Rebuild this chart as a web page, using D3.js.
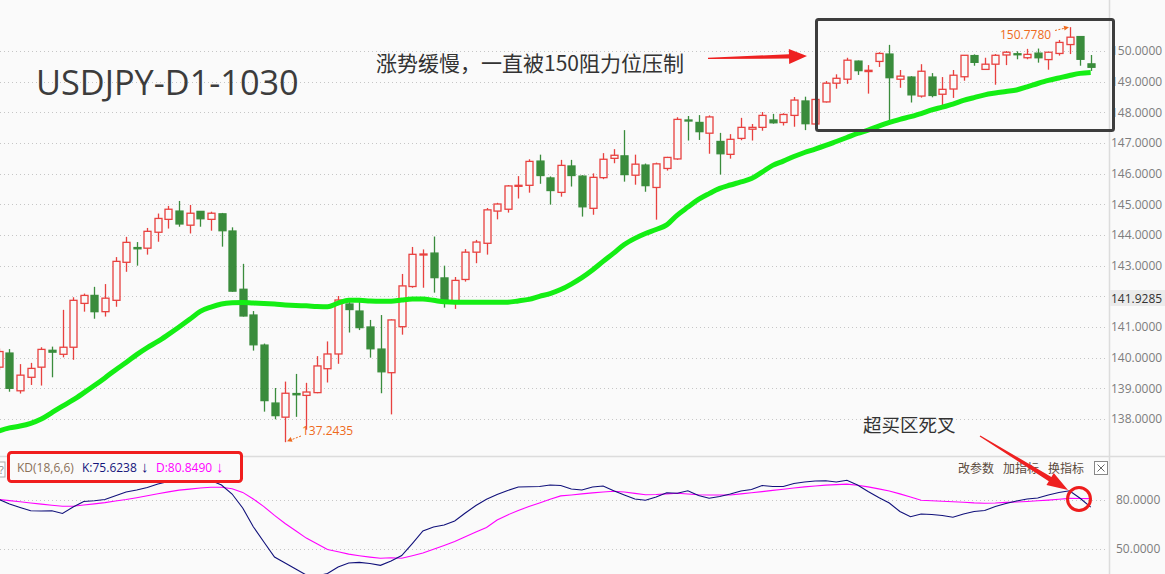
<!DOCTYPE html>
<html><head><meta charset="utf-8">
<script src="https://cdn.jsdelivr.net/npm/d3@7"></script>
<style>body{margin:0;background:#fafafa;} svg{display:block}</style>
</head><body><svg id="c" width="1165" height="574"></svg>
<script>
// ---- data (USDJPY daily candles) ----
const openV=[139.69,140.15,138.92,139.36,139.69,140.24,140.11,140.34,141.77,142.03,
141.50,141.87,143.11,143.59,143.57,144.09,144.51,144.78,144.32,144.77,
144.51,144.69,144.13,142.23,141.39,140.41,138.52,138.06,138.83,138.77,
138.86,139.64,140.12,141.75,141.52,141.00,140.28,139.51,141.01,142.32,
143.35,143.41,142.60,141.77,142.55,143.44,143.73,144.78,144.84,145.60,
145.62,146.41,145.86,145.39,146.25,145.92,144.87,145.87,146.50,146.58,
145.95,146.28,145.55,146.17,146.48,147.75,147.67,147.32,147.05,146.63,
147.15,147.45,147.51,147.75,147.67,147.90,148.37,147.62,148.34,148.95,
149.08,149.67,149.33,149.66,149.90,149.08,149.15,148.53,149.15,148.59,
148.76,149.16,149.85,149.40,149.57,149.87,149.91,149.78,149.93,149.72,
149.92,150.21,150.47,149.58];
const closeV=[140.20,139.00,139.43,139.65,140.27,140.18,140.34,141.87,142.03,141.50,
141.94,143.14,143.76,143.55,144.12,144.54,144.84,144.36,144.71,144.53,
144.71,144.14,142.17,141.36,140.42,138.60,138.11,138.84,138.79,138.88,
139.73,140.12,141.88,141.57,140.98,140.29,139.54,141.23,142.34,143.37,
143.38,142.61,141.90,142.52,143.44,143.77,144.82,145.01,145.60,145.62,
146.40,145.94,145.45,146.27,145.94,144.92,145.88,146.47,146.60,145.97,
146.31,145.61,146.32,146.53,147.77,147.73,147.37,147.85,146.65,147.12,
147.51,147.51,147.90,147.66,147.93,148.40,147.63,148.42,148.95,149.11,
149.70,149.36,149.37,149.92,149.13,149.18,148.57,149.34,148.55,148.75,
149.21,149.86,149.63,149.57,149.86,149.96,149.89,149.89,149.78,149.96,
150.28,150.45,149.73,149.47];
const highV=[140.30,140.28,139.79,139.83,140.34,140.36,141.56,141.97,142.09,142.31,
142.40,143.28,143.94,143.77,144.23,144.70,144.95,145.11,144.98,144.78,
144.76,144.72,144.25,143.06,141.52,140.46,139.01,139.22,139.47,139.18,
140.05,140.53,142.01,141.88,141.83,141.23,141.39,141.25,142.73,143.61,
143.53,143.95,143.00,142.63,143.54,143.84,144.88,145.05,145.63,145.92,
146.47,146.62,145.91,146.45,146.45,145.95,146.01,146.67,146.80,147.42,
146.62,146.33,146.36,146.55,147.84,147.88,147.91,147.90,147.33,147.29,
147.82,147.62,148.01,147.95,147.97,148.50,148.51,148.45,149.02,149.24,
149.78,149.69,149.54,149.96,150.20,149.38,149.18,149.57,149.28,149.15,
149.38,149.87,149.89,149.78,149.90,150.00,149.99,150.07,150.08,149.97,
150.36,150.778,150.49,149.87];
const lowV=[139.60,138.89,138.83,139.11,139.09,139.36,140.01,139.93,141.50,141.27,
141.34,141.66,142.80,143.00,143.36,143.78,144.21,144.27,144.05,144.27,
144.14,143.62,142.15,141.34,140.23,138.24,137.99,137.2435,138.07,137.65,
138.84,139.19,139.80,140.82,140.90,140.00,138.84,138.15,140.75,142.28,
142.28,142.12,141.63,141.59,142.48,143.08,143.36,144.51,144.73,145.19,
145.38,145.67,144.99,145.25,145.58,144.60,144.66,145.82,146.34,145.74,
145.64,145.41,144.50,146.10,146.45,147.08,147.10,146.65,145.97,146.49,
147.09,147.08,147.40,147.63,147.57,147.53,147.42,147.59,148.32,148.77,
148.93,149.22,148.61,149.48,147.59,148.80,148.32,148.48,148.49,148.23,
148.47,149.03,149.52,149.38,148.90,149.54,149.73,149.73,149.62,149.39,
149.85,149.90,149.52,149.35];
const maV=[137.61,137.71,137.77,137.86,138.00,138.21,138.42,138.62,138.85,139.09,
139.34,139.60,139.84,140.10,140.33,140.53,140.76,141.00,141.25,141.51,
141.65,141.75,141.79,141.80,141.78,141.77,141.75,141.72,141.70,141.69,
141.67,141.66,141.78,141.87,141.87,141.85,141.84,141.84,141.88,141.91,
141.91,141.87,141.82,141.81,141.81,141.81,141.81,141.81,141.81,141.85,
141.90,142.00,142.09,142.22,142.40,142.61,142.86,143.14,143.41,143.69,
143.89,144.05,144.18,144.33,144.65,144.91,145.16,145.35,145.52,145.63,
145.73,145.84,146.05,146.27,146.41,146.56,146.69,146.80,146.92,147.05,
147.18,147.31,147.42,147.55,147.67,147.77,147.86,147.96,148.08,148.17,
148.27,148.39,148.48,148.57,148.63,148.68,148.73,148.83,148.94,149.04,
149.12,149.20,149.27,149.30];
const kV=[80.43,77.55,75.41,73.39,73.26,73.45,71.73,75.71,79.08,79.51,
80.31,82.63,84.90,86.12,87.65,89.80,91.33,92.25,92.55,92.86,
91.94,89.19,83.67,75.10,63.65,54.28,45.10,41.42,37.75,34.07,
33.46,34.99,38.97,41.42,41.79,41.11,40.01,42.65,46.01,53.36,
61.02,63.47,64.69,67.14,72.04,76.63,80.43,83.37,85.82,87.96,
88.14,88.27,89.19,88.88,86.74,86.12,87.96,88.57,85.63,83.06,
80.61,79.82,81.84,84.47,84.16,85.69,82.76,81.04,82.14,83.67,
85.51,86.43,88.88,88.27,88.27,90.10,91.02,91.63,91.76,91.02,
92.06,89.19,85.21,81.53,78.16,72.96,69.77,71.43,71.12,70.51,
69.41,71.43,72.96,73.57,76.02,77.86,79.39,80.61,81.22,83.06,
84.59,85.69,81.04,75.62];
const dV=[80.43,79.63,78.96,78.16,77.49,76.75,76.14,76.20,76.94,77.61,
78.41,79.39,80.31,81.41,82.63,83.86,84.96,86.06,86.67,87.35,
87.78,87.78,86.92,84.65,80.61,75.96,70.57,65.61,61.14,56.67,
53.18,49.69,48.28,46.87,45.89,45.03,44.30,44.60,44.36,45.89,
47.54,49.87,52.20,54.53,57.53,60.34,63.16,67.75,70.88,73.63,
75.96,78.22,80.43,82.51,83.06,83.74,84.35,84.90,85.39,84.90,
84.04,83.18,83.37,83.74,84.10,83.67,83.18,83.06,83.06,83.06,
83.74,84.41,85.14,85.88,86.61,87.35,88.02,88.57,89.12,89.43,
89.74,89.06,88.02,86.80,85.51,83.74,81.78,79.82,79.57,79.27,
78.90,78.59,78.22,78.04,78.16,78.53,78.78,79.08,79.51,79.94,
80.49,80.98,80.92,80.85];
const priceTicks=[138,139,140,141,142,143,144,145,146,147,148,149,150];
const kdTicks=[50,80];
const lastTag=141.9285;
const highMark=150.7780, lowMark=137.2435;
const kLast=75.6238, dLast=80.8490;

// ---- drawing ----
const W=1165,H=574,BG="#fafafa",UP="#e8413f",DN="#3a8c3c";
const svg=d3.select("#c");
svg.append("rect").attr("width",W).attr("height",H).attr("fill",BG);
const n=openV.length;
const x=d3.scaleLinear().domain([0,n-1]).range([-1.1,1090.7]);
const y=d3.scaleLinear().domain([138,150]).range([419,51]);
const yk=d3.scaleLinear().domain([50,80]).range([549,500]);
const plotR=1108;
const numFont="'Open Sans','Liberation Sans',Arial,sans-serif";
const cjkFont="'Noto Sans CJK SC','Noto Sans',sans-serif";

const defs=svg.append("defs");
defs.append("clipPath").attr("id","cm").append("rect").attr("x",0).attr("y",0).attr("width",plotR).attr("height",455);
defs.append("clipPath").attr("id","ck").append("rect").attr("x",0).attr("y",457).attr("width",plotR).attr("height",H-457);

// grid
const g=svg.append("g");
g.selectAll("line.gm").data(priceTicks).join("line")
 .attr("x1",0).attr("x2",plotR).attr("y1",d=>Math.round(y(d))+0.5).attr("y2",d=>Math.round(y(d))+0.5)
 .attr("stroke","#c6c6c6").attr("stroke-dasharray","1,3");
g.selectAll("line.gk").data(kdTicks).join("line")
 .attr("x1",0).attr("x2",plotR).attr("y1",d=>Math.round(yk(d))+0.5).attr("y2",d=>Math.round(yk(d))+0.5)
 .attr("stroke","#c6c6c6").attr("stroke-dasharray","1,3");

// frame lines
svg.append("line").attr("x1",1109.5).attr("x2",1109.5).attr("y1",0).attr("y2",H).attr("stroke","#dcdcdc").attr("stroke-width",1.5);
svg.append("line").attr("x1",0).attr("x2",W).attr("y1",456.5).attr("y2",456.5).attr("stroke","#dcdcdc").attr("stroke-width",1.5);

// candles
const cg=svg.append("g").attr("clip-path","url(#cm)");
const idx=d3.range(n);
cg.selectAll("line.w").data(idx).join("line")
 .attr("x1",i=>Math.round(x(i))+0.5).attr("x2",i=>Math.round(x(i))+0.5)
 .attr("y1",i=>y(highV[i])).attr("y2",i=>y(lowV[i]))
 .attr("stroke",i=>closeV[i]>=openV[i]?UP:DN).attr("stroke-width",1.3);
cg.selectAll("rect.b").data(idx).join("rect")
 .attr("x",i=>Math.round(x(i))-3)
 .attr("width",7)
 .attr("y",i=>y(Math.max(openV[i],closeV[i])))
 .attr("height",i=>Math.max(1,Math.abs(y(openV[i])-y(closeV[i]))))
 .attr("fill",i=>closeV[i]>=openV[i]?BG:DN)
 .attr("stroke",i=>closeV[i]>=openV[i]?UP:DN)
 .attr("stroke-width",1.3);

// moving average
cg.append("path").datum(idx).attr("fill","none").attr("stroke","#14ee14").attr("stroke-width",5)
 .attr("d",d3.line().x(i=>x(i)).y(i=>y(maV[i])).curve(d3.curveMonotoneX));

// KD lines
const kg=svg.append("g").attr("clip-path","url(#ck)");
kg.append("path").datum(idx).attr("fill","none").attr("stroke","#ff00ff").attr("stroke-width",1.1)
 .attr("d",d3.line().x(i=>x(i)).y(i=>yk(dV[i])));
kg.append("path").datum(idx).attr("fill","none").attr("stroke","#10107a").attr("stroke-width",1.1)
 .attr("d",d3.line().x(i=>x(i)).y(i=>yk(kV[i])));

// axes
const ax=svg.append("g").attr("transform","translate(1109,0)")
 .call(d3.axisRight(y).tickValues(priceTicks).tickFormat(d=>d.toFixed(4)).tickSize(0).tickPadding(2));
ax.select(".domain").remove();
ax.selectAll("text").attr("fill","#7d7d7d").attr("font-size",12).attr("font-family",numFont);
const axk=svg.append("g").attr("transform","translate(1109,0)")
 .call(d3.axisRight(yk).tickValues(kdTicks).tickFormat(d=>d.toFixed(4)).tickSize(0).tickPadding(7));
axk.select(".domain").remove();
axk.selectAll("text").attr("fill","#7d7d7d").attr("font-size",12).attr("font-family",numFont);

// last tag
svg.append("rect").attr("x",1110).attr("y",y(lastTag)-8.5).attr("width",55).attr("height",16).attr("fill","#ebebeb");
svg.append("text").attr("x",1111).attr("y",y(lastTag)+4.5).text(lastTag.toFixed(4))
 .attr("font-size",12).attr("font-family",numFont).attr("fill","#333");

// title & annotations
svg.append("text").attr("x",36).attr("y",95).text("USDJPY-D1-1030")
 .attr("font-size",34.3).attr("font-family",numFont).attr("fill","#3c3c3c");
svg.append("text").attr("x",376).attr("y",71).text("涨势缓慢，一直被150阻力位压制")
 .attr("font-size",21).attr("font-family",cjkFont).attr("fill","#333");
svg.append("text").attr("x",863).attr("y",432).text("超买区死叉")
 .attr("font-size",18.5).attr("font-family",cjkFont).attr("fill","#333");

function arrowPts(x1,y1,x2,y2,hl,hh,se,ss){
 const dx=x2-x1,dy=y2-y1,L=Math.hypot(dx,dy),ux=dx/L,uy=dy/L,nx=-uy,ny=ux;
 const bx=x2-ux*hl,by=y2-uy*hl;
 return [[x1+nx*ss,y1+ny*ss],[bx+nx*se,by+ny*se],[bx+nx*hh,by+ny*hh],[x2,y2],
  [bx-nx*hh,by-ny*hh],[bx-nx*se,by-ny*se],[x1-nx*ss,y1-ny*ss]];
}
svg.append("polygon").attr("points",arrowPts(708,58.3,807,56,18,7.5,2.2,0.6).join(" ")).attr("fill","#ee2020");

// highlight box
svg.append("rect").attr("x",816.5).attr("y",19.5).attr("width",297).attr("height",111).attr("rx",2)
 .attr("fill","none").attr("stroke","#3d3d3d").attr("stroke-width",3);

// high / low markers
const OR="#ee6a1c";
svg.append("text").attr("x",1000).attr("y",39).text(highMark.toFixed(4))
 .attr("font-size",12).attr("font-family",numFont).attr("fill",OR);
svg.append("line").attr("x1",1055).attr("y1",30.5).attr("x2",1067).attr("y2",y(highMark)+0.5)
 .attr("stroke",OR).attr("stroke-dasharray","2,1.5");
svg.append("polygon").attr("points",arrowPts(1062,28.5,1069,y(highMark),5,2.5,0,0).join(" ")).attr("fill",OR);
svg.append("text").attr("x",302).attr("y",435).text(lowMark.toFixed(4))
 .attr("font-size",12).attr("font-family",numFont).attr("fill",OR);
svg.append("line").attr("x1",301).attr("y1",436).attr("x2",289).attr("y2",y(lowMark)-1.5)
 .attr("stroke",OR).attr("stroke-dasharray","2,1.5");
svg.append("polygon").attr("points",arrowPts(294,438.5,287,y(lowMark)-1,5,2.5,0,0).join(" ")).attr("fill",OR);

// red circle
svg.append("circle").attr("cx",1079).attr("cy",499).attr("r",11.5).attr("fill","none").attr("stroke","#ee1c1c").attr("stroke-width",3);

// KD legend
svg.append("rect").attr("x",-5).attr("y",462).attr("width",10).attr("height",15).attr("fill","#fff").attr("stroke","#aaa");
svg.append("text").attr("x",-1).attr("y",474).text("?").attr("font-size",11).attr("font-family",numFont).attr("fill","#888");
svg.append("rect").attr("x",8.5).attr("y",452.5).attr("width",233).attr("height",29).attr("rx",3)
 .attr("fill",BG).attr("stroke","#f01e1e").attr("stroke-width",3);
const lg=svg.append("text").attr("y",472).attr("font-size",12).attr("font-family",numFont);
lg.append("tspan").attr("x",17).attr("fill","#8a7058").text("KD(18,6,6)");
lg.append("tspan").attr("x",82).attr("fill","#14147a").text("K:"+kLast.toFixed(4));
lg.append("tspan").attr("x",141).attr("fill","#14147a").attr("font-size",15).text("↓");
lg.append("tspan").attr("x",156).attr("fill","#ff00ff").text("D:"+dLast.toFixed(4));
lg.append("tspan").attr("x",216).attr("fill","#ff00ff").attr("font-size",15).text("↓");

// right tools
const tl=svg.append("text").attr("y",473).attr("font-size",12).attr("font-family",cjkFont).attr("fill","#5a4a3c");
tl.append("tspan").attr("x",958).text("改参数");
tl.append("tspan").attr("x",1003).text("加指标");
tl.append("tspan").attr("x",1048).text("换指标");
svg.append("rect").attr("x",1094.5).attr("y",461.5).attr("width",13).attr("height",13).attr("fill","#fff").attr("stroke","#888");
svg.append("path").attr("d","M1097.5,464.5L1104.5,471.5M1104.5,464.5L1097.5,471.5").attr("stroke","#666");
// bottom arrow drawn over tools text
svg.append("polygon").attr("points",arrowPts(980,436,1068,490,21,7,2.5,0.6).join(" ")).attr("fill","#ee2020");
</script></body></html>
